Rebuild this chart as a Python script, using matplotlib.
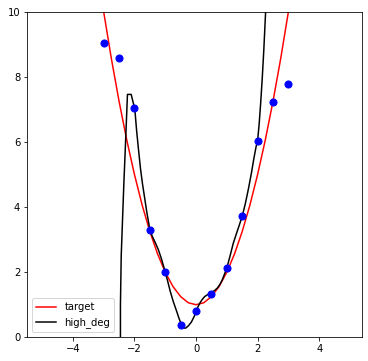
import matplotlib
matplotlib.use("Agg")
import matplotlib.pyplot as plt

# noisy samples
pts_x = [-3.0, -2.5, -2.0, -1.5, -1.0, -0.5, 0.0, 0.5, 1.0, 1.5, 2.0, 2.5, 3.0]
pts_y = [9.03, 8.57, 7.05, 3.31, 2.0, 0.38, 0.81, 1.33, 2.13, 3.72, 6.04, 7.23, 7.77]

# target curve
target_x = [-3.25, -3.0, -2.75, -2.5, -2.25, -2.0, -1.75, -1.5, -1.25, -1.0, -0.75, -0.5, -0.25,
            0.0, 0.25, 0.5, 0.75, 1.0, 1.25, 1.5, 1.75, 2.0, 2.25, 2.5, 2.75, 3.0, 3.25]
target_y = [11.56, 10.0, 8.56, 7.25, 6.06, 5.0, 4.06, 3.25, 2.56, 2.0, 1.56, 1.25, 1.06,
            1.0, 1.06, 1.25, 1.56, 2.0, 2.56, 3.25, 4.06, 5.0, 6.06, 7.25, 8.56, 10.0, 11.56]

# high degree fit
fit_x = [-2.462, -2.455, -2.43, -2.38, -2.34, -2.31, -2.227, -2.107, -1.987, -1.93, -1.867,
         -1.8, -1.74, -1.68, -1.6, -1.5, -1.42, -1.32, -1.22, -1.12, -1.0, -0.92, -0.84,
         -0.74, -0.63, -0.56, -0.48, -0.41, -0.34, -0.25, -0.15, -0.05, 0.0, 0.06, 0.13,
         0.2, 0.28, 0.36, 0.45, 0.53, 0.62, 0.7, 0.78, 0.85, 0.92, 1.0, 1.1, 1.21, 1.3,
         1.4, 1.5, 1.6, 1.7, 1.8, 1.88, 1.95, 2.0, 2.05, 2.1, 2.15, 2.2, 2.26, 2.32]
fit_y = [-50.0, 1.0, 2.5, 3.8, 4.83, 5.5, 7.46, 7.46, 7.0, 6.35, 5.75,
         5.15, 4.72, 4.35, 3.85, 3.31, 3.1, 2.9, 2.68, 2.4, 2.0, 1.72, 1.42,
         1.1, 0.8, 0.6, 0.4, 0.29, 0.28, 0.35, 0.47, 0.66, 0.81, 0.93, 1.06,
         1.16, 1.25, 1.3, 1.35, 1.39, 1.45, 1.52, 1.63, 1.76, 1.93, 2.13, 2.48, 2.89, 3.15,
         3.43, 3.72, 4.1, 4.55, 5.05, 5.5, 5.85, 6.04, 6.55, 7.2, 7.95, 8.8, 10.0, 12.0]

fig = plt.figure(figsize=(368 / 72, 361 / 72), dpi=72)
ax = fig.add_axes([0.0742, 0.0657, 0.9103, 0.9019])

ax.scatter(pts_x, pts_y, s=50, color='b', zorder=3)
ax.plot(target_x, target_y, color='r', label='target')
ax.plot(fit_x, fit_y, color='k', label='high_deg')

ax.set_xlim(-5.48, 5.40)
ax.set_ylim(0, 10)
ax.set_xticks([-4, -2, 0, 2, 4])
ax.set_yticks([0, 2, 4, 6, 8, 10])
ax.legend(loc='lower left')

fig.savefig('out.png', dpi=72)
